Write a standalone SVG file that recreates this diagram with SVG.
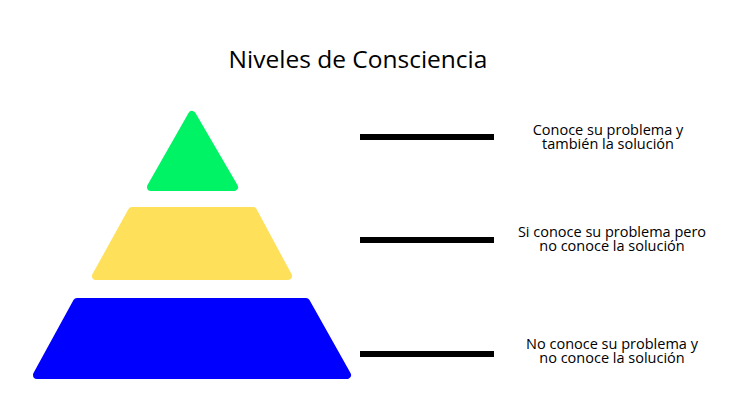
<svg xmlns="http://www.w3.org/2000/svg" width="745" height="414" viewBox="0 0 745 414">
<style>
.t{font-family:"Open Sans","Liberation Sans",sans-serif;fill:#000;text-anchor:middle}
.lbl{font-size:14.5px}
.lvl{stroke-linejoin:round;stroke-width:8}
.bar{stroke:#000;stroke-width:6;fill:none}
</style>
<rect width="745" height="414" fill="#fff"/>
<text class="t" x="358" y="68" font-size="24.5">Niveles de Consciencia</text>
<g id="nivel-alto">
<polygon class="lvl" points="192,115 234,187 151,187" fill="#00f364" stroke="#00f364"/>
</g>
<g id="nivel-medio">
<polygon class="lvl" points="132,211 253,211 288,276 96,276" fill="#fee05a" stroke="#fee05a"/>
</g>
<g id="nivel-bajo">
<polygon class="lvl" points="77,302 306,302 347,375 37,375" fill="#0000ff" stroke="#0000ff"/>
</g>
<g id="conectores">
<line class="bar" x1="360" y1="137" x2="494" y2="137"/>
<line class="bar" x1="360" y1="240" x2="494" y2="240"/>
<line class="bar" x1="360" y1="354" x2="494" y2="354"/>
</g>
<g id="texto-alto">
<text class="t lbl"><tspan x="608" y="135">Conoce su problema y</tspan><tspan x="608" y="149">también la solución</tspan></text>
</g>
<g id="texto-medio">
<text class="t lbl"><tspan x="612" y="237">Si conoce su problema pero</tspan><tspan x="612" y="251">no conoce la solución</tspan></text>
</g>
<g id="texto-bajo">
<text class="t lbl"><tspan x="612" y="349">No conoce su problema y</tspan><tspan x="612" y="363">no conoce la solución</tspan></text>
</g>
</svg>
